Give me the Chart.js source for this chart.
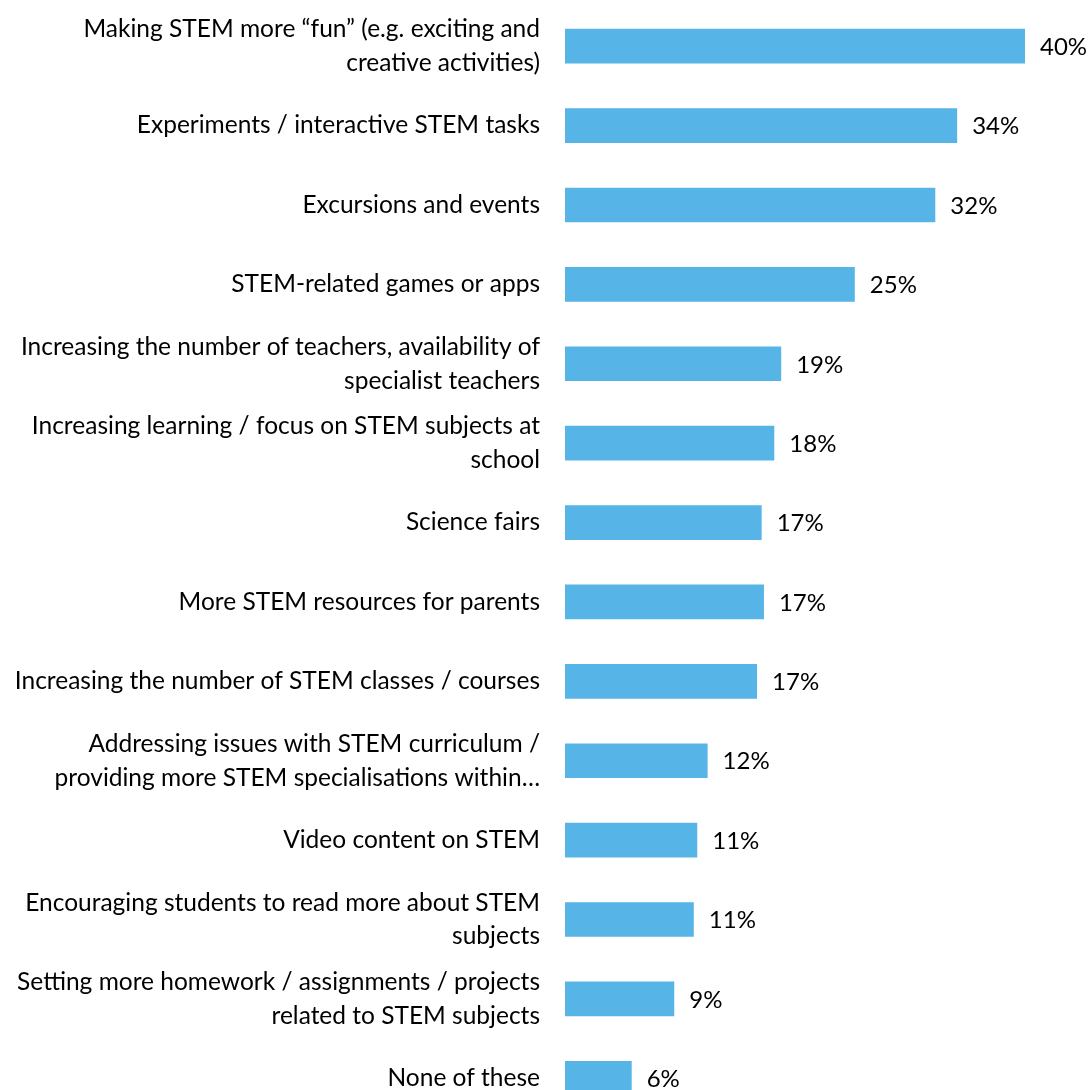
<!DOCTYPE html>
<html>
<head>
<meta charset="utf-8">
<script src="https://cdn.jsdelivr.net/npm/chart.js@4.4.1/dist/chart.umd.min.js"></script>
<style>
  html, body { margin: 0; padding: 0; background: #fff; overflow: hidden; }
  #wrap { width: 1088px; height: 1120px; position: relative; }
</style>
</head>
<body>
<div id="wrap"><canvas id="chart"></canvas></div>
<script>
// --- dados ---
const categories = [
  ['Making STEM more “fun” (e.g. exciting and', 'creative activities)'],
  'Experiments / interactive STEM tasks',
  'Excursions and events',
  'STEM-related games or apps',
  ['Increasing the number of teachers, availability of', 'specialist teachers'],
  ['Increasing learning / focus on STEM subjects at', 'school'],
  'Science fairs',
  'More STEM resources for parents',
  'Increasing the number of STEM classes / courses',
  ['Addressing issues with STEM curriculum /', 'providing more STEM specialisations within…'],
  'Video content on STEM',
  ['Encouraging students to read more about STEM', 'subjects'],
  ['Setting more homework / assignments / projects', 'related to STEM subjects'],
  'None of these'
];
// bar lengths as measured on the picture
const values = [40, 34.1, 32.2, 25.2, 18.8, 18.2, 17.1, 17.3, 16.7, 12.4, 11.5, 11.2, 9.5, 5.8];
// printed labels
const valueLabels = ['40%', '34%', '32%', '25%', '19%', '18%', '17%', '17%', '17%', '12%', '11%', '11%', '9%', '6%'];

const FONT = 'Lato, "Open Sans", sans-serif';

// rótulos de valor à direita das barras
const valueLabelPlugin = {
  id: 'valueLabels',
  afterDatasetsDraw(chart) {
    const ctx = chart.ctx;
    const meta = chart.getDatasetMeta(0);
    ctx.save();
    ctx.font = '24px ' + FONT;
    ctx.fillStyle = '#000';
    ctx.textAlign = 'left';
    ctx.textBaseline = 'middle';
    meta.data.forEach((bar, i) => {
      ctx.fillText(valueLabels[i], bar.x + 15, bar.y + 1);
    });
    ctx.restore();
  }
};

new Chart(document.getElementById('chart'), {
  type: 'bar',
  data: {
    labels: categories,
    datasets: [{
      data: values,
      backgroundColor: '#57B4E7',
      borderWidth: 0,
      categoryPercentage: 1,
      barPercentage: 0.437
    }]
  },
  options: {
    indexAxis: 'y',
    responsive: true,
    maintainAspectRatio: false,
    animation: false,
    layout: { padding: { top: 6.5, right: 63, bottom: 2, left: 0 } },
    plugins: {
      legend: { display: false },
      tooltip: { enabled: false }
    },
    scales: {
      x: {
        display: false,
        min: 0,
        max: 40
      },
      y: {
        grid: { display: false, drawTicks: false },
        border: { display: false },
        ticks: {
          autoSkip: false,
          padding: 25,
          color: '#000',
          font: { family: FONT, size: 24.5, lineHeight: 1.38 }
        },
        afterFit(scale) {
          // largura fixa e sem padding extra dos rótulos
          scale.width = 565;
          scale.paddingTop = 0;
          scale.paddingBottom = 0;
        }
      }
    }
  },
  plugins: [valueLabelPlugin]
});
</script>
</body>
</html>
